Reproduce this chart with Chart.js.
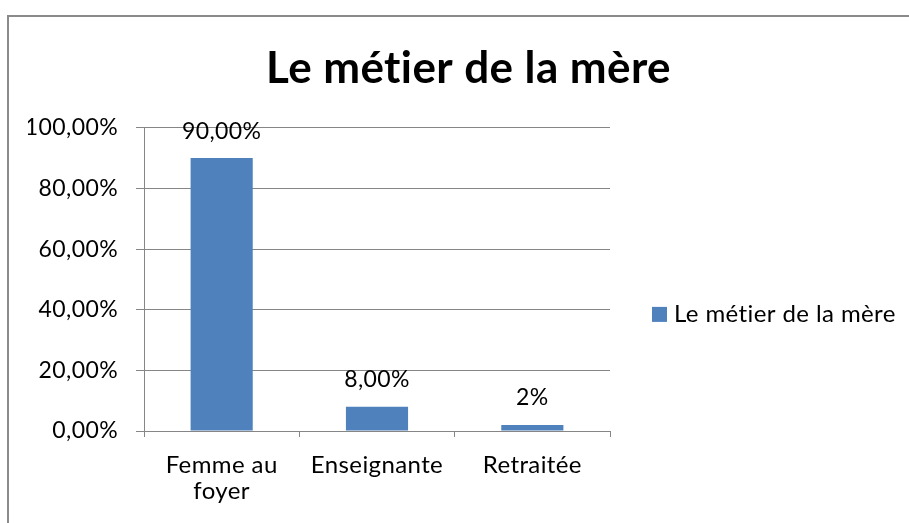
<!DOCTYPE html>
<html>
<head>
<meta charset="utf-8">
<title>Le métier de la mère</title>
<script src="https://cdn.jsdelivr.net/npm/chart.js@4/dist/chart.umd.min.js"></script>
<style>
  html, body { margin: 0; padding: 0; background: #fff; }
</style>
</head>
<body>
<canvas id="chart" width="909" height="523"></canvas>
<script>
const chartTitle = 'Le métier de la mère';
const seriesName = 'Le métier de la mère';
const categories = [['Femme au', 'foyer'], 'Enseignante', 'Retraitée'];
const values = [0.90, 0.08, 0.02];
const valueLabels = ['90,00%', '8,00%', '2%'];
const yTickLabels = ['0,00%', '20,00%', '40,00%', '60,00%', '80,00%', '100,00%'];

const FONT = 'Lato';
const LABEL_SIZE = 23;
const AXIS_GREY = '#868686';
const BAR_BLUE = '#4f81bd';

// grey frame round the whole chart, cut by the window on the right and bottom
// (a small letter spacing also stops Lato from joining "ti")
const framePlugin = {
  id: 'frame',
  beforeDraw(chart) {
    const ctx = chart.ctx;
    ctx.letterSpacing = '0.4px';
    ctx.save();
    ctx.strokeStyle = '#8a8a8a';
    ctx.lineWidth = 2;
    ctx.strokeRect(8, 16, 1000, 1000);
    ctx.restore();
  }
};

// value written above each bar
const valueLabelPlugin = {
  id: 'valueLabels',
  afterDatasetsDraw(chart) {
    const ctx = chart.ctx;
    const meta = chart.getDatasetMeta(0);
    ctx.save();
    ctx.font = LABEL_SIZE + 'px ' + FONT;
    ctx.fillStyle = '#000';
    ctx.textAlign = 'center';
    ctx.textBaseline = 'middle';
    meta.data.forEach((bar, i) => {
      ctx.fillText(valueLabels[i], bar.x, bar.y - 27);
    });
    ctx.restore();
  }
};

// legend sits in the empty space kept free on the right of the plot
const sideLegendPlugin = {
  id: 'sideLegend',
  afterDraw(chart) {
    const ctx = chart.ctx;
    const area = chart.chartArea;
    const ds = chart.data.datasets[0];
    const x = area.right + 42;
    const y = (area.top + area.bottom) / 2 + 35;
    ctx.save();
    ctx.fillStyle = ds.backgroundColor;
    ctx.fillRect(x, y - 7.5, 15, 15);
    ctx.font = '24px ' + FONT;
    ctx.fillStyle = '#000';
    ctx.textAlign = 'left';
    ctx.textBaseline = 'middle';
    ctx.fillText(ds.label, x + 22, y);
    ctx.restore();
  }
};

new Chart(document.getElementById('chart'), {
  type: 'bar',
  data: {
    labels: categories,
    datasets: [{
      label: seriesName,
      data: values,
      backgroundColor: BAR_BLUE,
      borderWidth: 0,
      barPercentage: 0.8,
      categoryPercentage: 0.5,
    }],
  },
  plugins: [framePlugin, valueLabelPlugin, sideLegendPlugin],
  options: {
    responsive: false,
    animation: false,
    devicePixelRatio: 1,
    layout: {
      padding: { left: 28, right: 0, top: 0, bottom: 0 },
    },
    scales: {
      x: {
        afterFit(scale) { scale.height = 92; },
        grid: {
          display: true,
          drawOnChartArea: false,
          offset: true,
          color: AXIS_GREY,
          tickLength: 6,
        },
        border: { color: AXIS_GREY, width: 1 },
        ticks: {
          color: '#000',
          padding: 15,
          font: { family: FONT, size: 24, lineHeight: 1.1 },
          maxRotation: 0,
        },
      },
      y: {
        min: 0,
        max: 1,
        afterFit(scale) { scale.width = 116; },
        grid: {
          color: AXIS_GREY,
          tickLength: 8,
        },
        border: { color: AXIS_GREY, width: 1 },
        ticks: {
          stepSize: 0.2,
          color: '#000',
          padding: 18,
          font: { family: FONT, size: LABEL_SIZE },
          callback: (value, index) => yTickLabels[index],
        },
      },
      // empty axis that only reserves the room where the legend is drawn
      legendSpace: {
        type: 'linear',
        axis: 'y',
        position: 'right',
        afterFit(scale) { scale.width = 299; },
        grid: { display: false },
        border: { display: false },
        ticks: { display: false },
      },
    },
    plugins: {
      title: {
        display: true,
        text: chartTitle,
        color: '#000',
        font: { family: FONT, size: 44, weight: 'bold', lineHeight: 1.2 },
        padding: { top: 42, bottom: 33 },
      },
      legend: { display: false },
      tooltip: { enabled: false },
    },
  },
});
</script>
</body>
</html>
